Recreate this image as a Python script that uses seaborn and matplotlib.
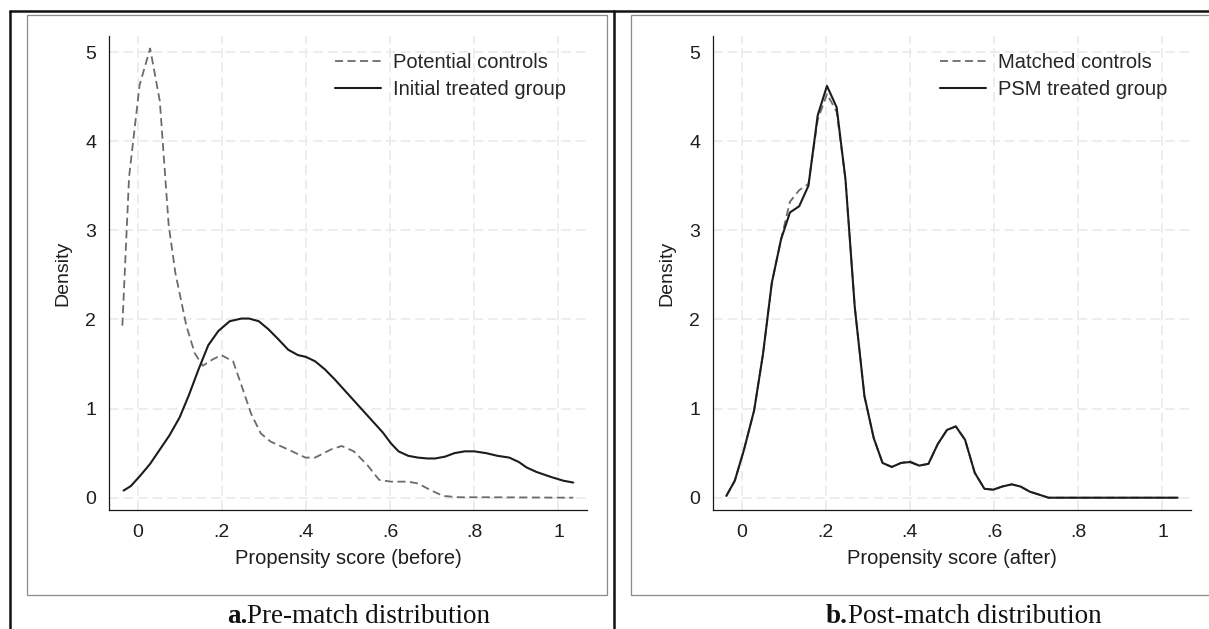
import numpy as np
import pandas as pd
import matplotlib
matplotlib.use("Agg")
import matplotlib.pyplot as plt
import seaborn as sns
from matplotlib.lines import Line2D
from matplotlib.patches import Rectangle

# panel a : density before matching
pre_ctrl_x = [-0.036, -0.020, 0.005, 0.030, 0.053, 0.074, 0.090, 0.116, 0.136, 0.155,
              0.178, 0.199, 0.227, 0.247, 0.270, 0.293, 0.316, 0.358, 0.399, 0.422,
              0.459, 0.485, 0.514, 0.547, 0.574, 0.602, 0.643, 0.666, 0.698, 0.726,
              0.763, 0.830, 1.035]
pre_ctrl_y = [1.93, 3.60, 4.63, 5.04, 4.45, 3.06, 2.52, 1.93, 1.62, 1.48,
              1.55, 1.60, 1.53, 1.26, 0.94, 0.72, 0.63, 0.54, 0.45, 0.45,
              0.54, 0.58, 0.52, 0.36, 0.20, 0.18, 0.18, 0.16, 0.08, 0.02,
              0.005, 0.005, 0.0]

pre_treat_x = [-0.033, -0.016, 0.007, 0.030, 0.053, 0.076, 0.100, 0.122, 0.145, 0.168,
               0.192, 0.219, 0.247, 0.265, 0.288, 0.311, 0.334, 0.358, 0.381, 0.400,
               0.422, 0.445, 0.468, 0.491, 0.514, 0.537, 0.560, 0.583, 0.602, 0.620,
               0.643, 0.666, 0.689, 0.707, 0.730, 0.753, 0.777, 0.800, 0.828, 0.855,
               0.883, 0.906, 0.924, 0.947, 0.984, 1.012, 1.035]
pre_treat_y = [0.08, 0.13, 0.25, 0.38, 0.54, 0.70, 0.90, 1.15, 1.44, 1.71,
               1.87, 1.98, 2.01, 2.01, 1.98, 1.89, 1.78, 1.66, 1.60, 1.58,
               1.53, 1.44, 1.33, 1.21, 1.09, 0.97, 0.85, 0.73, 0.61, 0.52,
               0.47, 0.45, 0.44, 0.44, 0.46, 0.50, 0.52, 0.52, 0.50, 0.47,
               0.45, 0.40, 0.34, 0.29, 0.23, 0.19, 0.17]

# panel b : density after matching
post_x = [-0.036, -0.016, 0.006, 0.030, 0.051, 0.072, 0.094, 0.115, 0.137, 0.159,
          0.181, 0.203, 0.226, 0.247, 0.269, 0.292, 0.314, 0.335, 0.357, 0.379,
          0.400, 0.422, 0.444, 0.466, 0.488, 0.509, 0.531, 0.554, 0.577, 0.598,
          0.619, 0.642, 0.663, 0.685, 0.706, 0.729, 1.036]
post_treat_y = [0.02, 0.19, 0.54, 0.98, 1.61, 2.41, 2.90, 3.20, 3.27, 3.50,
                4.29, 4.62, 4.38, 3.57, 2.14, 1.14, 0.67, 0.39, 0.345, 0.39,
                0.40, 0.36, 0.38, 0.60, 0.76, 0.80, 0.65, 0.28, 0.10, 0.09,
                0.125, 0.15, 0.125, 0.067, 0.036, 0.0, 0.0]
post_ctrl_y = [0.02, 0.19, 0.54, 0.98, 1.61, 2.41, 2.90, 3.32, 3.45, 3.52,
               4.24, 4.53, 4.33, 3.57, 2.14, 1.14, 0.67, 0.39, 0.345, 0.39,
               0.41, 0.36, 0.38, 0.60, 0.76, 0.80, 0.65, 0.28, 0.10, 0.09,
               0.125, 0.15, 0.125, 0.067, 0.036, 0.0, 0.0]

xticks = [0, 0.2, 0.4, 0.6, 0.8, 1.0]
xtick_labels = ["0", ".2", ".4", ".6", ".8", "1"]
yticks = [0, 1, 2, 3, 4, 5]

sns.set_style("white")
plt.rcParams["font.family"] = ["Liberation Sans", "DejaVu Sans"]
plt.rcParams["lines.scale_dashes"] = False

W, H = 1209, 629
fig = plt.figure(figsize=(W / 100, H / 100), dpi=100)

def px_axes(x0, x1, y_top, y_bot):
    return [x0 / W, 1 - y_bot / H, (x1 - x0) / W, (y_bot - y_top) / H]

dash_curve = (0, (5.8, 3.2))
dash_grid = (0, (7, 3.5))


def panel(ax, x1, y1, lab1, x2, y2, lab2, xlabel, leg_px):
    ax.set_xlim(-0.067, 1.067)
    ax.set_ylim(-0.138, 5.18)
    ax.set_xticks(xticks)
    ax.set_xticklabels(xtick_labels)
    ax.set_yticks(yticks)
    ax.grid(True, color="#ececec", lw=1.3, linestyle=dash_grid)
    ax.set_axisbelow(True)
    sns.lineplot(x=x1, y=y1, ax=ax, color="#6b6b6b", lw=1.3,
                 linestyle=dash_curve, label=lab1)
    sns.lineplot(x=x2, y=y2, ax=ax, color="#1c1c1c", lw=1.5, label=lab2)
    sns.despine(ax=ax)
    for s in ["left", "bottom"]:
        ax.spines[s].set_color("#1a1a1a")
        ax.spines[s].set_linewidth(0.9)
    ax.tick_params(axis="both", direction="out", length=5, width=0.9,
                   color="#1a1a1a", labelsize=14, labelcolor="#1e1e1e", pad=4.5)
    ax.tick_params(axis="x", pad=5)
    ax.set_xlabel(xlabel, fontsize=14.5, color="#1e1e1e", labelpad=6)
    ax.set_ylabel("Density", fontsize=14, color="#1e1e1e", labelpad=10)
    ax.legend(loc="upper left", frameon=False, fontsize=14.5,
              handlelength=2.3, handletextpad=0.6, labelspacing=0.38,
              borderpad=0, borderaxespad=0,
              bbox_to_anchor=(leg_px[0] / W, 1 - leg_px[1] / H),
              bbox_transform=fig.transFigure)


ax1 = fig.add_axes(px_axes(109.3, 586.7, 36, 510))
panel(ax1, pre_ctrl_x, pre_ctrl_y, "Potential controls",
      pre_treat_x, pre_treat_y, "Initial treated group",
      "Propensity score (before)", (335, 53))

ax2 = fig.add_axes(px_axes(713.3, 1190.7, 36, 510))
panel(ax2, post_x, post_ctrl_y, "Matched controls",
      post_x, post_treat_y, "PSM treated group",
      "Propensity score (after)", (940, 53))

# grey panel frames
for x0, x1 in [(27, 607), (630.7, 1230)]:
    fig.add_artist(Rectangle((x0 / W, 1 - 595 / H), (x1 - x0) / W, (595 - 14.5) / H,
                             transform=fig.transFigure, fill=False,
                             edgecolor="#8a8a8a", lw=0.9))

# black outer border and divider
bk = dict(transform=fig.transFigure, color="#111111", lw=1.8)
fig.add_artist(Line2D([10 / W, 1.0], [1 - 11 / H, 1 - 11 / H], **bk))
fig.add_artist(Line2D([10 / W, 10 / W], [0, 1 - 11 / H], **bk))
fig.add_artist(Line2D([613.7 / W, 613.7 / W], [0, 1 - 11 / H], **bk))

# captions
serif = ["Liberation Serif", "DejaVu Serif"]
cy = 1 - 623 / H
for split, tag, txt in [(247, "a.", "Pre-match distribution"),
                        (848, "b.", "Post-match distribution")]:
    fig.text(split / W, cy, tag, ha="right", va="baseline", fontsize=19.5,
             fontweight="bold", family=serif, color="#111111")
    fig.text(split / W, cy, txt, ha="left", va="baseline", fontsize=19.5,
             family=serif, color="#111111")

fig.savefig("out.png", dpi=100)
